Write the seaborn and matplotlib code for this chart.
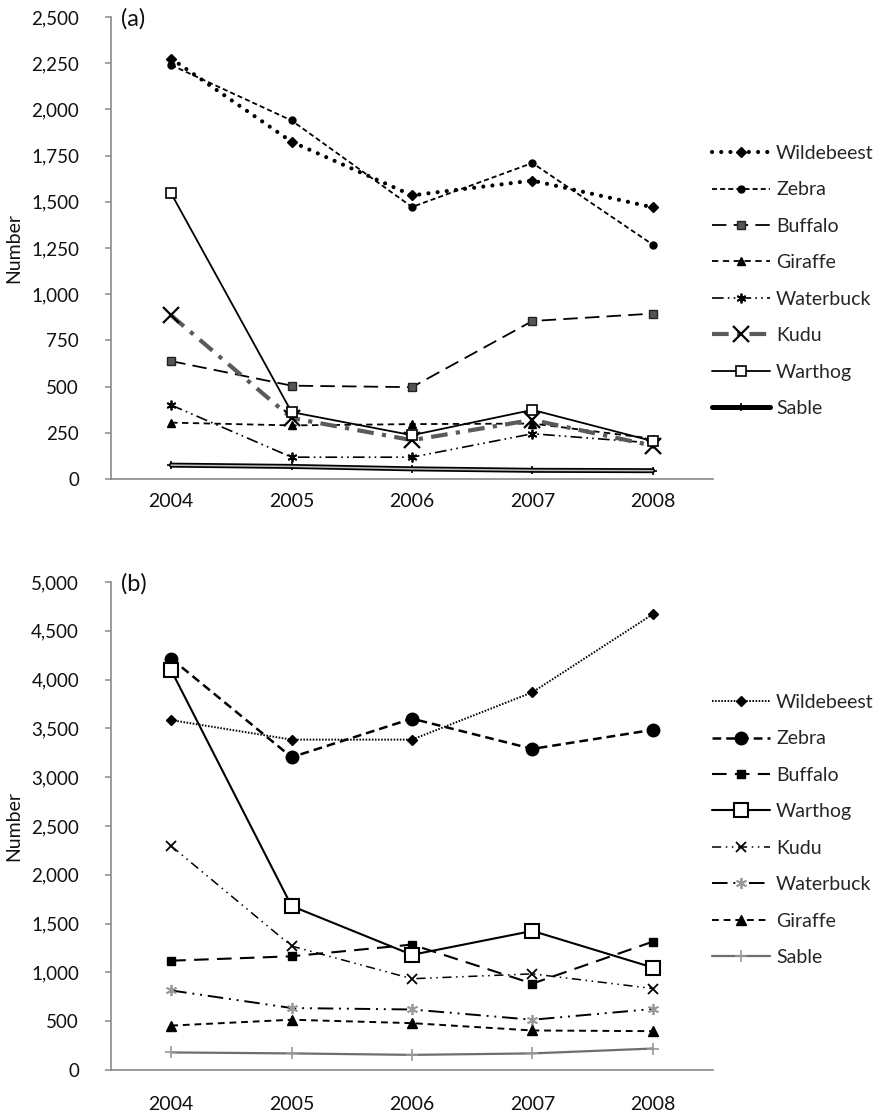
import matplotlib
matplotlib.use("Agg")
import matplotlib.pyplot as plt
import seaborn as sns
import pandas as pd
from matplotlib.ticker import FuncFormatter, FixedLocator

# ---------------- data ----------------
years = [2004, 2005, 2006, 2007, 2008]

# panel (a)
a_names = ["Wildebeest", "Zebra", "Buffalo", "Giraffe", "Waterbuck", "Kudu", "Warthog", "Sable"]
a_wildebeest = [2275, 1825, 1535, 1615, 1470]
a_zebra = [2240, 1940, 1472, 1710, 1268]
a_buffalo = [638, 505, 497, 855, 895]
a_giraffe = [305, 290, 297, 300, 218]
a_waterbuck = [400, 118, 118, 245, 195]
a_kudu = [885, 330, 210, 320, 180]
a_warthog = [1545, 362, 237, 374, 205]
a_sable = [75, 68, 55, 47, 45]

# panel (b)
b_names = ["Wildebeest", "Zebra", "Buffalo", "Warthog", "Kudu", "Waterbuck", "Giraffe", "Sable"]
b_wildebeest = [3585, 3385, 3385, 3870, 4670]
b_zebra = [4215, 3205, 3600, 3290, 3485]
b_buffalo = [1120, 1165, 1285, 885, 1315]
b_warthog = [4095, 1680, 1180, 1425, 1050]
b_kudu = [2295, 1270, 935, 985, 835]
b_waterbuck = [815, 635, 620, 515, 625]
b_giraffe = [455, 515, 480, 405, 398]
b_sable = [180, 170, 155, 170, 220]

a_values = [a_wildebeest, a_zebra, a_buffalo, a_giraffe, a_waterbuck, a_kudu, a_warthog, a_sable]
b_values = [b_wildebeest, b_zebra, b_buffalo, b_warthog, b_kudu, b_waterbuck, b_giraffe, b_sable]

# ---------------- styles ----------------
AST = (6, 2, 0)
a_styles = {
    "Wildebeest": dict(color="black", lw=3.0, ls=(0, (0.01, 2.2)), marker="D", ms=5, mfc="black", mec="black", cap="round"),
    "Zebra": dict(color="black", lw=1.3, ls=(0, (2.8, 1.7)), marker="o", ms=5, mfc="black", mec="black"),
    "Buffalo": dict(color="black", lw=1.3, ls=(0, (8, 4)), marker="s", ms=6, mfc="#555555", mec="#222222"),
    "Giraffe": dict(color="black", lw=1.3, ls=(0, (3.5, 2.5)), marker="^", ms=6, mfc="black", mec="black"),
    "Waterbuck": dict(color="black", lw=1.2, ls=(0, (7, 2.5, 1, 2.5, 1, 2.5)), marker=AST, ms=7, mfc="black", mec="black", mew=1.3),
    "Kudu": dict(color="#5a5a5a", lw=3.0, ls=(0, (4, 2, 1, 2)), marker="x", ms=12, mfc="black", mec="black", mew=1.6),
    "Warthog": dict(color="black", lw=1.3, ls="-", marker="s", ms=7, mfc="white", mec="black", mew=1.2),
    "Sable": dict(color="black", lw=3.6, ls="-", marker="+", ms=6, mfc="black", mec="black", mew=1.2),
}
b_styles = {
    "Wildebeest": dict(color="black", lw=1.4, ls=(0, (0.8, 0.8)), marker="D", ms=5, mfc="black", mec="black"),
    "Zebra": dict(color="black", lw=1.8, ls=(0, (3.5, 2)), marker="o", ms=9, mfc="black", mec="black"),
    "Buffalo": dict(color="black", lw=1.5, ls=(0, (7, 4)), marker="s", ms=6, mfc="black", mec="black"),
    "Warthog": dict(color="black", lw=1.5, ls="-", marker="s", ms=10, mfc="white", mec="black", mew=1.5),
    "Kudu": dict(color="black", lw=1.1, ls=(0, (6, 3, 1, 3, 1, 3)), marker="x", ms=7, mfc="black", mec="black", mew=1.3),
    "Waterbuck": dict(color="black", lw=1.4, ls=(0, (8, 3, 1, 3, 1, 3)), marker=AST, ms=8, mfc="#9a9a9a", mec="#9a9a9a", mew=1.3),
    "Giraffe": dict(color="black", lw=1.4, ls=(0, (3.5, 2.5)), marker="^", ms=7, mfc="black", mec="black"),
    "Sable": dict(color="#6e6e6e", lw=1.6, ls="-", marker="+", ms=9, mfc="#9a9a9a", mec="#9a9a9a", mew=1.2),
}

sns.set_style("white")
plt.rcParams["font.family"] = ["Lato", "DejaVu Sans"]

W, H = 874, 1116
FS = 14
YFS = 13.5
fig = plt.figure(figsize=(W / 100, H / 100), dpi=100)

def fx(px):
    return px / W

def fy(py):
    return 1 - py / H

AX_L, AX_R = 111, 713
ax_a = fig.add_axes([fx(AX_L), fy(479), fx(AX_R - AX_L), (479 - 17) / H])
ax_b = fig.add_axes([fx(AX_L), fy(1070), fx(AX_R - AX_L), (1070 - 582) / H])


def draw(ax, names, values, styles, ymax, ystep, double_sable, xpad):
    for name, vals in zip(names, values):
        st = styles[name]
        df = pd.DataFrame({"year": years, "count": vals})
        kws = dict(color=st["color"], linewidth=st["lw"], linestyle=st["ls"],
                   marker=st["marker"], markersize=st["ms"],
                   markerfacecolor=st["mfc"], markeredgecolor=st["mec"],
                   markeredgewidth=st.get("mew", 1.0))
        if "cap" in st:
            kws["dash_capstyle"] = st["cap"]
        sns.lineplot(data=df, x="year", y="count", ax=ax, label=name, **kws)
        if double_sable and name == "Sable":
            sns.lineplot(data=df, x="year", y="count", ax=ax, color="#bdbdbd",
                         linewidth=1.1, linestyle="-", legend=False)
    ax.set_xlim(2003.5, 2008.5)
    ax.set_ylim(0, ymax)
    ax.set_yticks(range(0, ymax + 1, ystep))
    ax.yaxis.set_major_formatter(FuncFormatter(lambda v, p: f"{v:,.0f}"))
    ax.set_xticks(years)
    ax.set_xticklabels([str(y) for y in years])
    ax.xaxis.set_minor_locator(FixedLocator([2003.5 + i for i in range(6)]))
    ax.tick_params(axis="x", which="major", length=0, pad=xpad, labelsize=FS, labelcolor="#111111")
    ax.tick_params(axis="x", which="minor", length=4.5, width=1.1, color="#8a8a8a", direction="out")
    ax.tick_params(axis="y", which="major", length=4, width=1.1, color="#8a8a8a", direction="out",
                   pad=19, labelsize=YFS, labelcolor="#111111", left=True)
    for s in ["top", "right"]:
        ax.spines[s].set_visible(False)
    for s in ["left", "bottom"]:
        ax.spines[s].set_color("#8a8a8a")
        ax.spines[s].set_linewidth(1.2)
    ax.set_xlabel("")
    ax.set_ylabel("")
    handles, labels = ax.get_legend_handles_labels()
    return handles, labels


leg_kw = dict(loc="center left", bbox_transform=fig.transFigure, frameon=False, fontsize=FS,
              handlelength=3.0, handletextpad=0.3, labelspacing=1.0,
              borderpad=0, borderaxespad=0, numpoints=1)

h, l = draw(ax_a, a_names, a_values, a_styles, 2500, 250, True, 10)
ax_a.legend(h, l, bbox_to_anchor=(fx(712), fy(281)), **leg_kw)

h, l = draw(ax_b, b_names, b_values, b_styles, 5000, 500, False, 19)
ax_b.legend(h, l, bbox_to_anchor=(fx(712), fy(830)), **leg_kw)

fig.text(fx(121), fy(19), "(a)", fontsize=17, ha="left", va="center", color="#111111")
fig.text(fx(121), fy(584), "(b)", fontsize=17, ha="left", va="center", color="#111111")
fig.text(fx(14), fy(248), "Number", fontsize=FS, rotation=90, ha="center", va="center", color="#111111")
fig.text(fx(14), fy(826), "Number", fontsize=FS, rotation=90, ha="center", va="center", color="#111111")

fig.savefig("out.png", dpi=100, facecolor="white")
